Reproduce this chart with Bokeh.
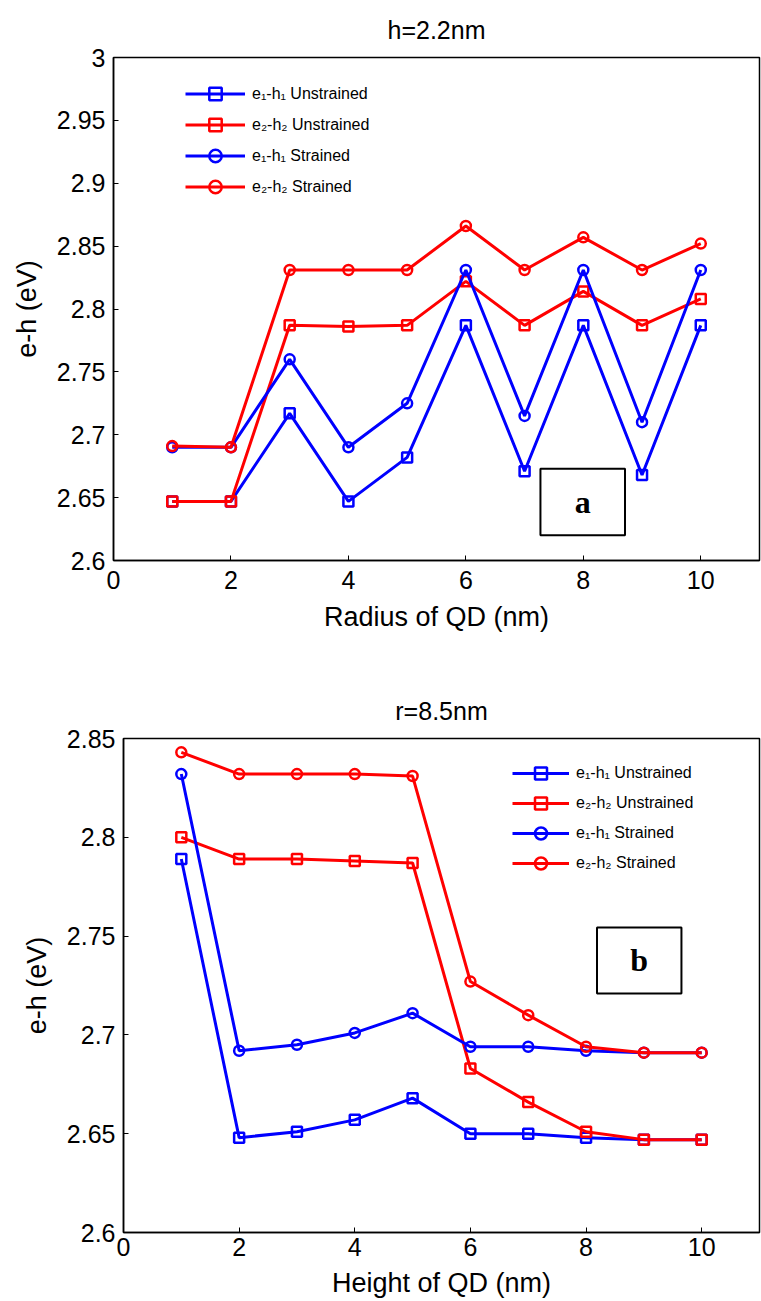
from bokeh.plotting import figure
from bokeh.models import (Range1d, FixedTicker, NumeralTickFormatter,
                          BoxAnnotation, Label)
from bokeh.embed import file_html
from bokeh.resources import INLINE

# ---------------- data ----------------
radius_qd = [1, 2, 3, 4, 5, 6, 7, 8, 9, 10]
a_e1h1_unstrained = [2.647, 2.647, 2.717, 2.647, 2.682, 2.787, 2.671, 2.787, 2.668, 2.787]
a_e2h2_unstrained = [2.647, 2.647, 2.787, 2.786, 2.787, 2.822, 2.787, 2.814, 2.787, 2.808]
a_e1h1_strained = [2.690, 2.690, 2.760, 2.690, 2.725, 2.831, 2.715, 2.831, 2.710, 2.831]
a_e2h2_strained = [2.691, 2.690, 2.831, 2.831, 2.831, 2.866, 2.831, 2.857, 2.831, 2.852]

height_qd = [1, 2, 3, 4, 5, 6, 7, 8, 9, 10]
b_e1h1_unstrained = [2.789, 2.648, 2.651, 2.657, 2.668, 2.650, 2.650, 2.648, 2.647, 2.647]
b_e2h2_unstrained = [2.800, 2.789, 2.789, 2.788, 2.787, 2.683, 2.666, 2.651, 2.647, 2.647]
b_e1h1_strained = [2.832, 2.692, 2.695, 2.701, 2.711, 2.694, 2.694, 2.692, 2.691, 2.691]
b_e2h2_strained = [2.843, 2.832, 2.832, 2.832, 2.831, 2.727, 2.710, 2.694, 2.691, 2.691]

series_labels = ["e\u2081-h\u2081 Unstrained", "e\u2082-h\u2082 Unstrained",
                 "e\u2081-h\u2081 Strained", "e\u2082-h\u2082 Strained"]
series_colors = ["#0000ff", "#ff0000", "#0000ff", "#ff0000"]
series_markers = ["square", "square", "circle", "circle"]

x_ticks = [0, 2, 4, 6, 8, 10]
a_y_ticks = [2.6, 2.65, 2.7, 2.75, 2.8, 2.85, 2.9, 2.95, 3.0]
b_y_ticks = [2.6, 2.65, 2.7, 2.75, 2.8, 2.85]

FONT = "Liberation Sans"


def make_panel(title, xlabel, xs, ys_list, yr, yticks, height, left, top, bottom,
               x_std, x_lab_std, legend_xy, legend_row, glyph_w, box, letter):
    p = figure(width=761, height=height, x_range=Range1d(0, 11), y_range=Range1d(*yr),
               output_backend="svg", toolbar_location=None,
               min_border_left=left, min_border_top=top, min_border_bottom=bottom,
               min_border_right=2, background_fill_color="white",
               border_fill_color="white")
    p.grid.visible = False
    p.outline_line_color = "black"
    p.outline_line_width = 1.5

    p.title.text = title
    p.title.align = "center"
    p.title.text_font = FONT
    p.title.text_font_size = "25px"
    p.title.text_font_style = "normal"
    p.title.text_color = "black"
    p.title.standoff = 27

    for ax in (p.xaxis[0], p.yaxis[0]):
        ax.major_tick_in = 5
        ax.major_tick_out = 0
        ax.minor_tick_line_color = None
        ax.axis_line_color = "black"
        ax.axis_line_width = 1.5
        ax.major_label_text_font = FONT
        ax.major_label_text_font_size = "25px"
        ax.major_label_text_color = "black"
        ax.axis_label_text_font = FONT
        ax.axis_label_text_font_size = "27px"
        ax.axis_label_text_font_style = "normal"
        ax.axis_label_text_color = "black"

    p.xaxis.ticker = FixedTicker(ticks=x_ticks)
    p.xaxis.axis_label = xlabel
    p.xaxis.major_label_standoff = x_std
    p.xaxis.axis_label_standoff = x_lab_std
    p.yaxis.ticker = FixedTicker(ticks=yticks)
    p.yaxis.formatter = NumeralTickFormatter(format="0.[00]")
    p.yaxis.axis_label = "e-h (eV)"
    p.yaxis.major_label_standoff = 8
    p.yaxis.axis_label_standoff = 12

    for ys, lab, col, mk in zip(ys_list, series_labels, series_colors, series_markers):
        p.line(xs, ys, line_color=col, line_width=3, legend_label=lab)
        p.scatter(xs, ys, marker=mk, size=10, line_color=col, line_width=2.5,
                  fill_color=None, legend_label=lab)

    lg = p.legend[0]
    lg.location = legend_xy
    lg.border_line_color = None
    lg.background_fill_alpha = 0
    lg.padding = 0
    lg.margin = 0
    lg.spacing = 0
    lg.glyph_width = glyph_w
    lg.glyph_height = legend_row
    lg.label_height = legend_row
    lg.label_standoff = 7
    lg.label_text_font = FONT
    lg.label_text_font_size = "16px"
    lg.label_text_color = "black"

    bl, br, bb, bt = box
    p.add_layout(BoxAnnotation(left=bl, right=br, bottom=bb, top=bt, fill_color="white",
                               fill_alpha=1, line_color="black", line_width=2,
                               line_alpha=1))
    p.add_layout(Label(x=(bl + br) / 2, y=(bb + bt) / 2, text=letter, text_align="center",
                       text_baseline="middle", text_font="Liberation Serif",
                       text_font_style="bold", text_font_size="32px",
                       text_color="black"))
    return p


p1 = make_panel("h=2.2nm", "Radius of QD (nm)", radius_qd,
                [a_e1h1_unstrained, a_e2h2_unstrained, a_e1h1_strained, a_e2h2_strained],
                (2.6, 3.0), a_y_ticks, 650, 113, 57, 90, 10, 10, (72, 358), 31, 60,
                (7.27, 8.71, 2.62, 2.673), "a")
p2 = make_panel("r=8.5nm", "Height of QD (nm)", height_qd,
                [b_e1h1_unstrained, b_e2h2_unstrained, b_e1h1_strained, b_e2h2_strained],
                (2.6, 2.85), b_y_ticks, 651, 123, 88, 69, 5, 9, (389, 354), 30, 57,
                (8.19, 9.65, 2.721, 2.7544), "b")

html = file_html([p1, p2], INLINE)
html = html.replace("<body>", "<body style=\"margin:0\">", 1)
open("out.html", "w").write(html)
